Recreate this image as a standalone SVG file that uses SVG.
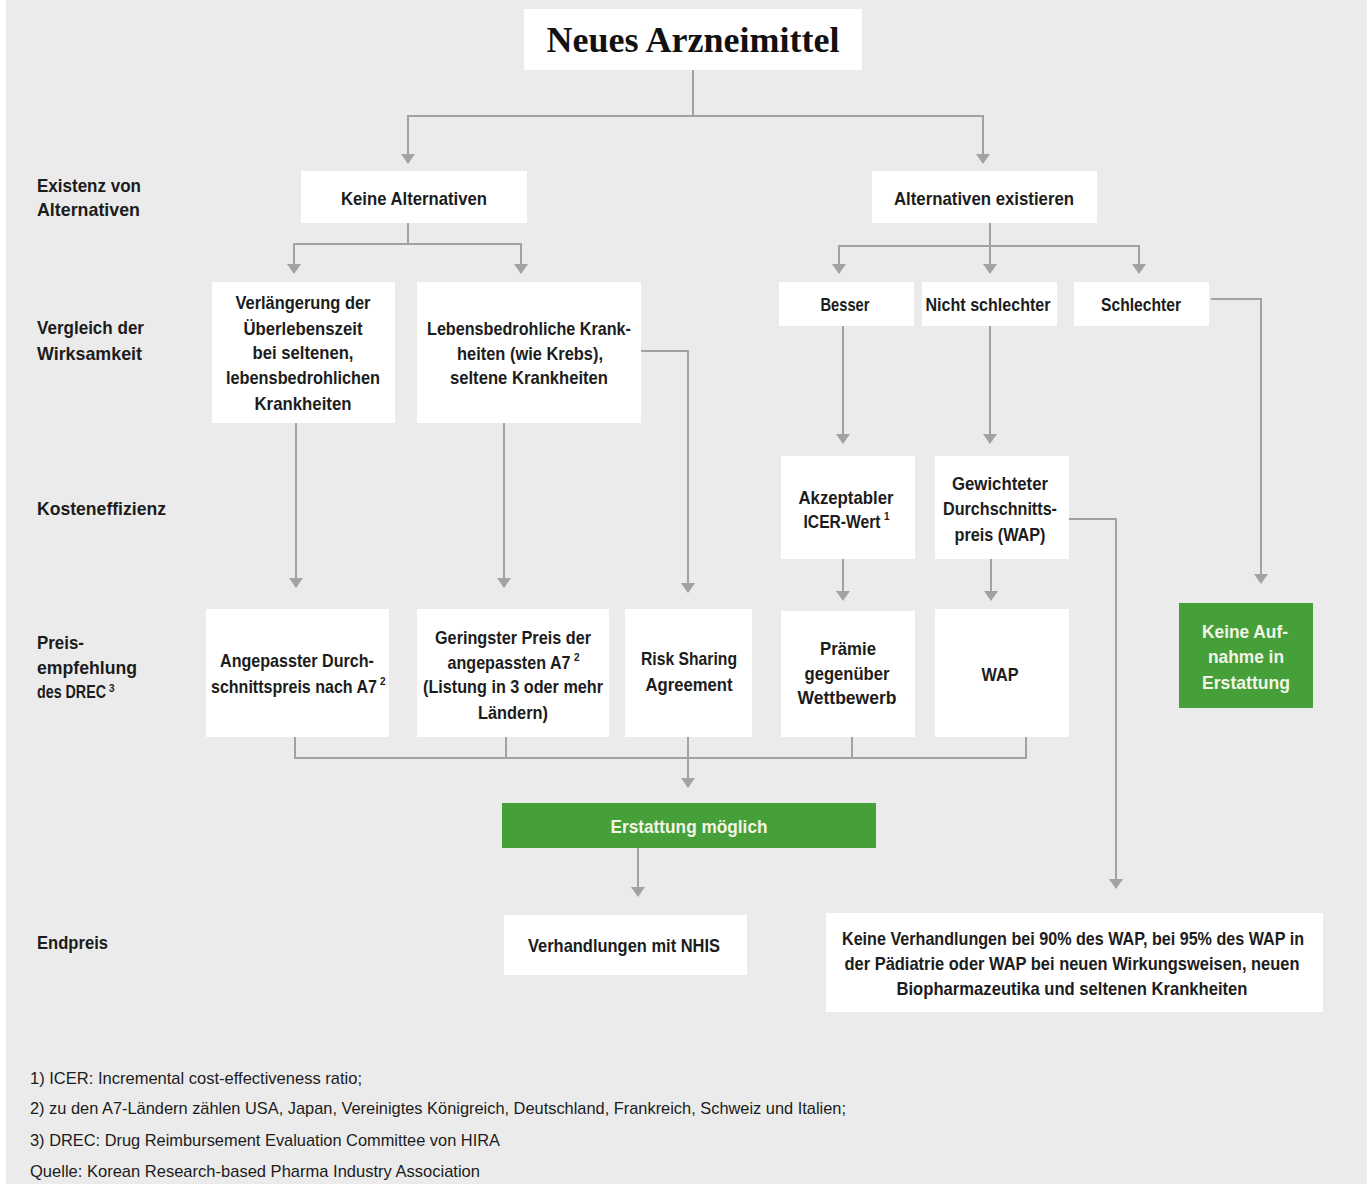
<svg xmlns="http://www.w3.org/2000/svg" width="1372" height="1184" viewBox="0 0 1372 1184">
<style>
.box{fill:#ffffff}
.green{fill:#45a03a}
.t{font-family:"Liberation Sans",Arial,sans-serif;font-weight:bold;font-size:19px;fill:#1c1c1c;text-anchor:middle;dominant-baseline:central}
.tw{fill:#f4f4e6}
.lab{font-family:"Liberation Sans",Arial,sans-serif;font-weight:bold;font-size:19px;fill:#1c1c1c;dominant-baseline:central}
.fn{font-family:"Liberation Sans",Arial,sans-serif;font-size:17px;fill:#1c1c1c;dominant-baseline:central}
.title{font-family:"Liberation Serif","DejaVu Serif",serif;font-weight:bold;font-size:36px;fill:#111;text-anchor:middle}
.sup{font-family:"Liberation Sans",Arial,sans-serif;font-weight:bold;font-size:10px;fill:#1c1c1c;text-anchor:start;dominant-baseline:central}
.c{fill:none;stroke:#a2a2a2;stroke-width:2}
</style>
<defs>
<marker id="ah" viewBox="0 0 10 14" markerWidth="10" markerHeight="14" refX="9" refY="7" orient="auto" markerUnits="userSpaceOnUse">
<path d="M0,0 L10,7 L0,14 z" fill="#a2a2a2"/>
</marker>
</defs>
<rect x="0" y="0" width="1372" height="1184" fill="#ffffff"/>
<rect x="6" y="0" width="1361" height="1184" fill="#ebebeb"/>

<g id="connectors">
<path class="c" d="M693,70 V116 M408,116 H983"/>
<path class="c" d="M408,115 V163" marker-end="url(#ah)"/>
<path class="c" d="M983,115 V163" marker-end="url(#ah)"/>
<path class="c" d="M408,223 V244 M294,244 H521"/>
<path class="c" d="M294,243 V273" marker-end="url(#ah)"/>
<path class="c" d="M521,243 V273" marker-end="url(#ah)"/>
<path class="c" d="M990,223 V273" marker-end="url(#ah)"/>
<path class="c" d="M839,246 H1139"/>
<path class="c" d="M839,245 V273" marker-end="url(#ah)"/>
<path class="c" d="M1139,245 V273" marker-end="url(#ah)"/>
<path class="c" d="M296,423 V587" marker-end="url(#ah)"/>
<path class="c" d="M504,423 V587" marker-end="url(#ah)"/>
<path class="c" d="M641,351 H688 V592" marker-end="url(#ah)"/>
<path class="c" d="M843,326 V443" marker-end="url(#ah)"/>
<path class="c" d="M990,326 V443" marker-end="url(#ah)"/>
<path class="c" d="M1211,299 H1261 V583" marker-end="url(#ah)"/>
<path class="c" d="M843,559 V600" marker-end="url(#ah)"/>
<path class="c" d="M991,559 V600" marker-end="url(#ah)"/>
<path class="c" d="M1069,519 H1116 V888" marker-end="url(#ah)"/>
<path class="c" d="M295,737 V758 H1026 V737 M506,737 V758 M852,737 V758"/>
<path class="c" d="M688,737 V787" marker-end="url(#ah)"/>
<path class="c" d="M638,848 V896" marker-end="url(#ah)"/>
</g>

<g id="n-title"><rect class="box" x="524" y="9" width="338" height="61"/><text class="title" x="693" y="52">Neues Arzneimittel</text></g>

<g id="lab-existenz"><text class="lab" x="37" y="185" textLength="104" lengthAdjust="spacingAndGlyphs">Existenz von</text><text class="lab" x="37" y="209" textLength="103" lengthAdjust="spacingAndGlyphs">Alternativen</text></g>
<g id="lab-vergleich"><text class="lab" x="37" y="327" textLength="107" lengthAdjust="spacingAndGlyphs">Vergleich der</text><text class="lab" x="37" y="353" textLength="105" lengthAdjust="spacingAndGlyphs">Wirksamkeit</text></g>
<g id="lab-kosten"><text class="lab" x="37" y="508" textLength="129" lengthAdjust="spacingAndGlyphs">Kosteneffizienz</text></g>
<g id="lab-preis"><text class="lab" x="37" y="642" textLength="47" lengthAdjust="spacingAndGlyphs">Preis-</text><text class="lab" x="37" y="667" textLength="100" lengthAdjust="spacingAndGlyphs">empfehlung</text><text class="lab" x="37" y="691" textLength="69" lengthAdjust="spacingAndGlyphs">des DREC</text><text class="sup" x="109" y="688">3</text></g>
<g id="lab-end"><text class="lab" x="37" y="942" textLength="71" lengthAdjust="spacingAndGlyphs">Endpreis</text></g>

<g id="n-keine"><rect class="box" x="301" y="171" width="226" height="52"/><text class="t" x="414" y="198" textLength="146" lengthAdjust="spacingAndGlyphs">Keine Alternativen</text></g>
<g id="n-altex"><rect class="box" x="872" y="171" width="225" height="52"/><text class="t" x="984" y="198" textLength="180" lengthAdjust="spacingAndGlyphs">Alternativen existieren</text></g>

<g id="n-verl"><rect class="box" x="212" y="282" width="183" height="141"/>
<text class="t" x="303" y="302" textLength="135" lengthAdjust="spacingAndGlyphs">Verlängerung der</text>
<text class="t" x="303" y="328" textLength="119" lengthAdjust="spacingAndGlyphs">Überlebenszeit</text>
<text class="t" x="303" y="352" textLength="101" lengthAdjust="spacingAndGlyphs">bei seltenen,</text>
<text class="t" x="303" y="377" textLength="154" lengthAdjust="spacingAndGlyphs">lebensbedrohlichen</text>
<text class="t" x="303" y="403" textLength="97" lengthAdjust="spacingAndGlyphs">Krankheiten</text></g>
<g id="n-lebens"><rect class="box" x="417" y="282" width="224" height="141"/>
<text class="t" x="529" y="328" textLength="204" lengthAdjust="spacingAndGlyphs">Lebensbedrohliche Krank-</text>
<text class="t" x="530" y="353" textLength="146" lengthAdjust="spacingAndGlyphs">heiten (wie Krebs),</text>
<text class="t" x="529" y="377" textLength="158" lengthAdjust="spacingAndGlyphs">seltene Krankheiten</text></g>
<g id="n-besser"><rect class="box" x="779" y="282" width="135" height="44"/><text class="t" x="845" y="304" textLength="49" lengthAdjust="spacingAndGlyphs">Besser</text></g>
<g id="n-nicht"><rect class="box" x="922" y="282" width="135" height="44"/><text class="t" x="988" y="304" textLength="125" lengthAdjust="spacingAndGlyphs">Nicht schlechter</text></g>
<g id="n-schlechter"><rect class="box" x="1074" y="282" width="135" height="44"/><text class="t" x="1141" y="304" textLength="80" lengthAdjust="spacingAndGlyphs">Schlechter</text></g>

<g id="n-akz"><rect class="box" x="781" y="456" width="134" height="103"/>
<text class="t" x="846" y="497" textLength="95" lengthAdjust="spacingAndGlyphs">Akzeptabler</text>
<text class="t" x="842" y="521" textLength="77" lengthAdjust="spacingAndGlyphs">ICER-Wert</text><text class="sup" x="884" y="516">1</text></g>
<g id="n-gew"><rect class="box" x="935" y="456" width="134" height="103"/>
<text class="t" x="1000" y="483" textLength="96" lengthAdjust="spacingAndGlyphs">Gewichteter</text>
<text class="t" x="1000" y="508" textLength="114" lengthAdjust="spacingAndGlyphs">Durchschnitts-</text>
<text class="t" x="1000" y="534" textLength="91" lengthAdjust="spacingAndGlyphs">preis (WAP)</text></g>

<g id="n-ang"><rect class="box" x="206" y="609" width="183" height="128"/>
<text class="t" x="297" y="660" textLength="154" lengthAdjust="spacingAndGlyphs">Angepasster Durch-</text>
<text class="t" x="294" y="686" textLength="166" lengthAdjust="spacingAndGlyphs">schnittspreis nach A7</text><text class="sup" x="380" y="681">2</text></g>
<g id="n-ger"><rect class="box" x="417" y="609" width="192" height="128"/>
<text class="t" x="513" y="637" textLength="156" lengthAdjust="spacingAndGlyphs">Geringster Preis der</text>
<text class="t" x="509" y="662" textLength="123" lengthAdjust="spacingAndGlyphs">angepassten A7</text><text class="sup" x="574" y="657">2</text>
<text class="t" x="513" y="686" textLength="180" lengthAdjust="spacingAndGlyphs">(Listung in 3 oder mehr</text>
<text class="t" x="513" y="712" textLength="70" lengthAdjust="spacingAndGlyphs">Ländern)</text></g>
<g id="n-risk"><rect class="box" x="625" y="609" width="127" height="128"/>
<text class="t" x="689" y="658" textLength="96" lengthAdjust="spacingAndGlyphs">Risk Sharing</text>
<text class="t" x="689" y="684" textLength="87" lengthAdjust="spacingAndGlyphs">Agreement</text></g>
<g id="n-praemie"><rect class="box" x="781" y="611" width="134" height="126"/>
<text class="t" x="848" y="648" textLength="56" lengthAdjust="spacingAndGlyphs">Prämie</text>
<text class="t" x="847" y="673" textLength="85" lengthAdjust="spacingAndGlyphs">gegenüber</text>
<text class="t" x="847" y="697" textLength="99" lengthAdjust="spacingAndGlyphs">Wettbewerb</text></g>
<g id="n-wap"><rect class="box" x="935" y="609" width="134" height="128"/>
<text class="t" x="1000" y="674" textLength="37" lengthAdjust="spacingAndGlyphs">WAP</text></g>
<g id="n-keineauf"><rect class="green" x="1179" y="603" width="134" height="105"/>
<text class="t tw" x="1245" y="631" textLength="86" lengthAdjust="spacingAndGlyphs">Keine Auf-</text>
<text class="t tw" x="1246" y="656" textLength="76" lengthAdjust="spacingAndGlyphs">nahme in</text>
<text class="t tw" x="1246" y="682" textLength="88" lengthAdjust="spacingAndGlyphs">Erstattung</text></g>

<g id="n-erst"><rect class="green" x="502" y="803" width="374" height="45"/>
<text class="t tw" x="689" y="826" textLength="157" lengthAdjust="spacingAndGlyphs">Erstattung möglich</text></g>
<g id="n-nhis"><rect class="box" x="504" y="915" width="243" height="60"/>
<text class="t" x="624" y="945" textLength="192" lengthAdjust="spacingAndGlyphs">Verhandlungen mit NHIS</text></g>
<g id="n-keinever"><rect class="box" x="826" y="913" width="497" height="99"/>
<text class="t" x="1073" y="938" textLength="462" lengthAdjust="spacingAndGlyphs">Keine Verhandlungen bei 90% des WAP, bei 95% des WAP in</text>
<text class="t" x="1072" y="963" textLength="455" lengthAdjust="spacingAndGlyphs">der Pädiatrie oder WAP bei neuen Wirkungsweisen, neuen</text>
<text class="t" x="1072" y="988" textLength="351" lengthAdjust="spacingAndGlyphs">Biopharmazeutika und seltenen Krankheiten</text></g>

<g id="footnotes">
<text class="fn" x="30" y="1078" textLength="332" lengthAdjust="spacingAndGlyphs">1) ICER: Incremental cost-effectiveness ratio;</text>
<text class="fn" x="30" y="1108" textLength="816" lengthAdjust="spacingAndGlyphs">2) zu den A7-Ländern zählen USA, Japan, Vereinigtes Königreich, Deutschland, Frankreich, Schweiz und Italien;</text>
<text class="fn" x="30" y="1140" textLength="470" lengthAdjust="spacingAndGlyphs">3) DREC: Drug Reimbursement Evaluation Committee von HIRA</text>
<text class="fn" x="30" y="1171" textLength="450" lengthAdjust="spacingAndGlyphs">Quelle: Korean Research-based Pharma Industry Association</text>
</g>
</svg>
